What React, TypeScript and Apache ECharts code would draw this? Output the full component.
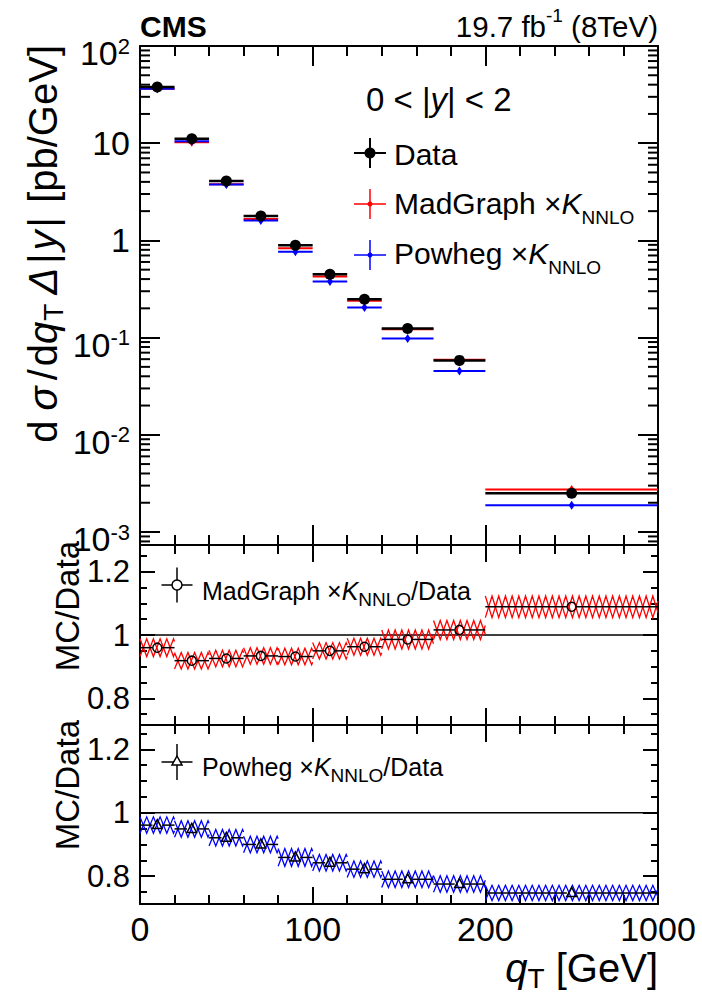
import React, { useEffect, useRef } from 'react';
import * as echarts from 'echarts';

// q_T binning [GeV]; the overflow bin (200–1000 GeV) occupies the 200–300 slot of the axis
const binLow = [0, 20, 40, 60, 80, 100, 120, 140, 170, 200];
const binHigh = [20, 40, 60, 80, 100, 120, 140, 170, 200, 300];
const binCenter = [10, 30, 50, 70, 90, 110, 130, 155, 185, 250];

// x axis: major tick positions and their labels
const xMajorTicks = [0, 100, 200, 300];
const xTickLabels = ['0', '100', '200', '1000'];

// dσ/dq_T Δ|y| [pb/GeV], 0 < |y| < 2
const dataXsec = [37.8, 11.1, 4.08, 1.78, 0.89, 0.448, 0.248, 0.124, 0.0583, 0.00251];
const madgraphXsec = [36.3, 10.2, 3.78, 1.66, 0.83, 0.426, 0.239, 0.122, 0.0592, 0.00273];
const powhegXsec = [36.3, 10.5, 3.76, 1.6, 0.765, 0.377, 0.204, 0.098, 0.0452, 0.00188];

// MC / Data ratios and the half-height of their uncertainty bands
const madgraphRatio = [0.96, 0.919, 0.926, 0.934, 0.932, 0.95, 0.963, 0.986, 1.016, 1.089];
const madgraphRatioErr = [0.028, 0.026, 0.026, 0.026, 0.026, 0.026, 0.027, 0.03, 0.03, 0.034];
const powhegRatio = [0.961, 0.949, 0.921, 0.9, 0.859, 0.842, 0.822, 0.79, 0.775, 0.747];
const powhegRatioErr = [0.026, 0.026, 0.026, 0.026, 0.028, 0.026, 0.026, 0.026, 0.026, 0.024];

// log axis labels (decades) and minor tick mantissas
const logTickValues = [1e-3, 1e-2, 1e-1, 1, 10, 100];
const logTickLabels = ['{b|10}{e|-3}', '{b|10}{e|-2}', '{b|10}{e|-1}', '1', '10', '{b|10}{e|2}'];
const logMantissas = [2, 3, 4, 5, 6, 7, 8, 9];
const logDecades = [1e-4, 1e-3, 1e-2, 1e-1, 1, 10];

// ratio axis ticks
const ratioMajorTicks = [0.8, 1, 1.2];
const ratioTickLabels = ['0.8', '1', '1.2'];
const ratioMinorTicks = [0.75, 0.85, 0.9, 0.95, 1.05, 1.1, 1.15, 1.25];

const FONT = '"Liberation Sans", Arial, Helvetica, sans-serif';
const RED = '#ff0000';
const BLUE = '#0000ff';
const BLACK = '#000000';
const HATCH_STEP = 6.7;

const frameStyle = { color: BLACK, width: 2 };

function xAxesFor(grid: number, major: number, minor: number, labels: boolean) {
  const base = { type: 'value', gridIndex: grid, min: 0, max: 300, splitLine: { show: false } };
  const lab = labels
    ? {
        show: true,
        showMinLabel: true,
        showMaxLabel: true,
        color: BLACK,
        fontFamily: FONT,
        fontSize: 34,
        margin: 8,
        formatter: (v: number) => {
          const i = xMajorTicks.indexOf(Math.round(v));
          return i >= 0 ? xTickLabels[i] : '';
        },
      }
    : { show: false };
  return [
    { ...base, position: 'bottom', interval: 100, axisLine: { show: true, onZero: false, lineStyle: frameStyle }, axisTick: { show: true, inside: true, length: major, lineStyle: frameStyle }, axisLabel: lab },
    { ...base, position: 'bottom', interval: 20, axisLine: { show: false, onZero: false }, axisTick: { show: true, inside: true, length: minor, lineStyle: frameStyle }, axisLabel: { show: false } },
    { ...base, position: 'top', interval: 100, axisLine: { show: true, onZero: false, lineStyle: frameStyle }, axisTick: { show: true, inside: true, length: major, lineStyle: frameStyle }, axisLabel: { show: false } },
    { ...base, position: 'top', interval: 20, axisLine: { show: false, onZero: false }, axisTick: { show: true, inside: true, length: minor, lineStyle: frameStyle }, axisLabel: { show: false } },
  ];
}

function logYAxes() {
  const base = { type: 'log', gridIndex: 0, min: 7.35e-4, max: 100, splitLine: { show: false }, minorTick: { show: false } };
  return [
    {
      ...base,
      position: 'left',
      axisLine: { show: true, onZero: false, lineStyle: frameStyle },
      axisTick: { show: true, inside: true, length: 20, lineStyle: frameStyle },
      axisLabel: {
        show: true,
        showMinLabel: false,
        showMaxLabel: true,
        margin: 10,
        color: BLACK,
        fontFamily: FONT,
        fontSize: 34,
        formatter: (v: number) => {
          const n = Math.round(Math.log10(v));
          const i = logTickValues.findIndex((t) => Math.round(Math.log10(t)) === n);
          return i >= 0 ? logTickLabels[i] : '';
        },
        rich: {
          b: { fontFamily: FONT, fontSize: 34, lineHeight: 34, padding: [14, 0, 0, 0], color: BLACK },
          e: { fontFamily: FONT, fontSize: 22, lineHeight: 22, padding: [13, 0, 13, 0], color: BLACK },
        },
      },
    },
    {
      ...base,
      position: 'right',
      axisLine: { show: true, onZero: false, lineStyle: frameStyle },
      axisTick: { show: true, inside: true, length: 20, lineStyle: frameStyle },
      axisLabel: { show: false },
    },
  ];
}

function ratioYAxes(grid: number, min: number, max: number) {
  const base = { type: 'value', gridIndex: grid, min, max, splitLine: { show: false } };
  return [
    {
      ...base,
      position: 'left',
      axisLine: { show: true, onZero: false, lineStyle: frameStyle },
      axisTick: { show: true, inside: true, length: 15, customValues: ratioMajorTicks, lineStyle: frameStyle },
      axisLabel: {
        show: true,
        customValues: ratioMajorTicks,
        margin: 10,
        color: BLACK,
        fontFamily: FONT,
        fontSize: 31,
        formatter: (v: number) => {
          const i = ratioMajorTicks.findIndex((t) => Math.abs(t - v) < 1e-6);
          return i >= 0 ? ratioTickLabels[i] : '';
        },
      },
    },
    {
      ...base,
      position: 'left',
      axisLine: { show: false, onZero: false },
      axisTick: { show: true, inside: true, length: 7, customValues: ratioMinorTicks, lineStyle: frameStyle },
      axisLabel: { show: false },
    },
    {
      ...base,
      position: 'right',
      axisLine: { show: true, onZero: false, lineStyle: frameStyle },
      axisTick: { show: true, inside: true, length: 15, customValues: ratioMajorTicks, lineStyle: frameStyle },
      axisLabel: { show: false },
    },
    {
      ...base,
      position: 'right',
      axisLine: { show: false, onZero: false },
      axisTick: { show: true, inside: true, length: 7, customValues: ratioMinorTicks, lineStyle: frameStyle },
      axisLabel: { show: false },
    },
  ];
}

// zigzag between the top and bottom edge of a band, used for the hatched uncertainty fill
function zigzag(x0: number, x1: number, yTop: number, yBot: number, startTop: boolean) {
  const pts: number[][] = [];
  let x = x0;
  let top = startTop;
  pts.push([x, top ? yTop : yBot]);
  while (x + HATCH_STEP < x1 - 0.01) {
    x += HATCH_STEP;
    top = !top;
    pts.push([x, top ? yTop : yBot]);
  }
  const rem = x1 - x;
  if (rem > 0.01) {
    const yFrom = top ? yTop : yBot;
    const yTo = top ? yBot : yTop;
    pts.push([x1, yFrom + ((yTo - yFrom) * rem) / HATCH_STEP]);
  }
  return pts;
}

function mcRender(color: string) {
  return (_params: any, api: any) => {
    const y = api.value(2);
    const a = api.coord([api.value(0), y]);
    const b = api.coord([api.value(1), y]);
    const c = api.coord([api.value(3), y]);
    return {
      type: 'group',
      children: [
        { type: 'line', shape: { x1: a[0], y1: a[1], x2: b[0], y2: b[1] }, style: { stroke: color, lineWidth: 2 } },
        {
          type: 'polygon',
          shape: { points: [[c[0], c[1] - 4.5], [c[0] + 3, c[1]], [c[0], c[1] + 4.5], [c[0] - 3, c[1]]] },
          style: { fill: color },
        },
      ],
    };
  };
}

function dataRender(_params: any, api: any) {
  const y = api.value(2);
  const a = api.coord([api.value(0), y]);
  const b = api.coord([api.value(1), y]);
  const c = api.coord([api.value(3), y]);
  return {
    type: 'group',
    children: [
      { type: 'line', shape: { x1: a[0], y1: a[1], x2: b[0], y2: b[1] }, style: { stroke: BLACK, lineWidth: 2.5 } },
      { type: 'circle', shape: { cx: c[0], cy: c[1], r: 5.5 }, style: { fill: BLACK } },
    ],
  };
}

function ratioRender(color: string, marker: 'circle' | 'triangle') {
  return (_params: any, api: any) => {
    const lo = api.value(0);
    const hi = api.value(1);
    const r = api.value(2);
    const e = api.value(3);
    const xc = api.value(4);
    const tl = api.coord([lo, r + e]);
    const br = api.coord([hi, r - e]);
    const a = api.coord([lo, r]);
    const b = api.coord([hi, r]);
    const c = api.coord([xc, r]);
    const gap = 4.8;
    const markerEl =
      marker === 'circle'
        ? { type: 'circle', shape: { cx: c[0], cy: c[1], r: 4.5 }, style: { fill: 'none', stroke: BLACK, lineWidth: 1.5 } }
        : {
            type: 'polygon',
            shape: { points: [[c[0], c[1] - 5.5], [c[0] + 4.8, c[1] + 3.5], [c[0] - 4.8, c[1] + 3.5]] },
            style: { fill: 'none', stroke: BLACK, lineWidth: 1.5 },
          };
    return {
      type: 'group',
      children: [
        { type: 'polyline', shape: { points: zigzag(tl[0], br[0], tl[1], br[1], true) }, style: { stroke: color, lineWidth: 1.3, fill: 'none' } },
        { type: 'polyline', shape: { points: zigzag(tl[0], br[0], tl[1], br[1], false) }, style: { stroke: color, lineWidth: 1.3, fill: 'none' } },
        { type: 'line', shape: { x1: a[0], y1: a[1], x2: c[0] - gap, y2: c[1] }, style: { stroke: BLACK, lineWidth: 1.5 } },
        { type: 'line', shape: { x1: c[0] + gap, y1: c[1], x2: b[0], y2: b[1] }, style: { stroke: BLACK, lineWidth: 1.5 } },
        markerEl,
      ],
    };
  };
}

function refLineRender(_params: any, api: any) {
  const v = api.value(0);
  const a = api.coord([0, v]);
  const b = api.coord([300, v]);
  return { type: 'line', shape: { x1: a[0], y1: a[1], x2: b[0], y2: b[1] }, style: { stroke: BLACK, lineWidth: 1.4 } };
}

function logMinorRender(_params: any, api: any) {
  const v = api.value(0);
  const a = api.coord([0, v]);
  const b = api.coord([300, v]);
  return {
    type: 'group',
    children: [
      { type: 'line', shape: { x1: a[0], y1: a[1], x2: a[0] + 10, y2: a[1] }, style: { stroke: BLACK, lineWidth: 2 } },
      { type: 'line', shape: { x1: b[0] - 10, y1: b[1], x2: b[0], y2: b[1] }, style: { stroke: BLACK, lineWidth: 2 } },
    ],
  };
}

function cross(cx: number, cy: number, hw: number, hh: number, color: string, lw: number) {
  return [
    { type: 'line', z: 100, shape: { x1: cx - hw, y1: cy, x2: cx + hw, y2: cy }, style: { stroke: color, lineWidth: lw } },
    { type: 'line', z: 100, shape: { x1: cx, y1: cy - hh, x2: cx, y2: cy + hh }, style: { stroke: color, lineWidth: lw } },
  ];
}

function text(x: number, y: number, str: string, style: any) {
  return { type: 'text', x, y, z: 100, style: { text: str, fontFamily: FONT, fill: BLACK, ...style } };
}

function buildOption() {
  const xsecRows = (vals: number[]) => vals.map((v, i) => [binLow[i], binHigh[i], v, binCenter[i]]);
  const ratioRows = (vals: number[], errs: number[]) =>
    vals.map((v, i) => [binLow[i], binHigh[i], v, errs[i], binCenter[i]]);

  const logMinorTicks: number[][] = [];
  logDecades.forEach((d) =>
    logMantissas.forEach((m) => {
      const v = m * d;
      if (v > 7.35e-4 && v < 100) logMinorTicks.push([v]);
    })
  );

  const legendMain = { fontSize: 30, lineHeight: 30, fontFamily: FONT, fill: BLACK };
  const legendRich = {
    t: legendMain,
    i: { ...legendMain, fontStyle: 'italic' },
    s: { fontSize: 19, lineHeight: 19, padding: [28, 0, 0, 0], fontFamily: FONT, fill: BLACK },
  };
  const ratioMain = { fontSize: 25, lineHeight: 25, fontFamily: FONT, fill: BLACK };
  const ratioRich = {
    t: ratioMain,
    i: { ...ratioMain, fontStyle: 'italic' },
    s: { fontSize: 19, lineHeight: 19, padding: [16, 0, 0, 0], fontFamily: FONT, fill: BLACK },
  };
  const titleMain = { fontSize: 40, lineHeight: 40, fontFamily: FONT, fill: BLACK };
  const titleRich = {
    t: titleMain,
    i: { ...titleMain, fontStyle: 'italic' },
    s: { fontSize: 28, lineHeight: 28, padding: [20, 0, 0, 0], fontFamily: FONT, fill: BLACK },
    // spaced variants for the y-axis title
    sig: { ...titleMain, fontStyle: 'italic', padding: [0, 6, 0, 6] },
    sl: { ...titleMain, padding: [0, 3, 0, 0] },
    d: { ...titleMain, padding: [0, 4, 0, 0] },
    st: { fontSize: 28, lineHeight: 28, padding: [20, 9, 0, 1], fontFamily: FONT, fill: BLACK },
    dl: { ...titleMain, fontStyle: 'italic', padding: [0, 4, 0, 0] },
    bar: { ...titleMain, padding: [0, 3, 0, 0] },
    y: { ...titleMain, fontStyle: 'italic', padding: [0, 3, 0, 0] },
  };

  const graphic: any[] = [
    // header
    text(140, 26, 'CMS', { fontSize: 30, fontWeight: 'bold', align: 'left', verticalAlign: 'middle' }),
    text(658, 26, '{t|19.7 fb}{e|-1}{t| (8TeV)}', {
      align: 'right',
      verticalAlign: 'middle',
      rich: {
        t: { fontSize: 29.5, lineHeight: 29.5, fontFamily: FONT, fill: BLACK },
        e: { fontSize: 19, lineHeight: 19, padding: [0, 0, 21, 0], fontFamily: FONT, fill: BLACK },
      },
    }),
    // axis titles
    {
      type: 'text',
      x: 43,
      y: 45,
      rotation: Math.PI / 2,
      z: 100,
      style: {
        text: '{d|d}{sig|σ}{sl|/}{t|d}{i|q}{st|T}{dl|Δ}{bar||}{y|y}{bar||}{t| [pb/GeV]}',
        align: 'right',
        verticalAlign: 'middle',
        rich: titleRich,
      },
    },
    {
      type: 'text',
      x: 67,
      y: 541,
      rotation: Math.PI / 2,
      z: 100,
      style: { text: 'MC/Data', fontFamily: FONT, fontSize: 33, fill: BLACK, align: 'right', verticalAlign: 'middle' },
    },
    {
      type: 'text',
      x: 67,
      y: 720,
      rotation: Math.PI / 2,
      z: 100,
      style: { text: 'MC/Data', fontFamily: FONT, fontSize: 33, fill: BLACK, align: 'right', verticalAlign: 'middle' },
    },
    text(658, 968, '{i|q}{s|T}{t| [GeV]}', { align: 'right', verticalAlign: 'middle', rich: titleRich }),
    // legend, upper panel
    text(366, 99, '{t|0 < |}{i|y}{t|| < 2}', {
      align: 'left',
      verticalAlign: 'middle',
      rich: { t: { ...legendMain, fontSize: 33, lineHeight: 33 }, i: { ...legendMain, fontSize: 33, lineHeight: 33, fontStyle: 'italic' } },
    }),
    ...cross(370, 153, 16, 15, BLACK, 2),
    { type: 'circle', z: 100, shape: { cx: 370, cy: 153, r: 5.5 }, style: { fill: BLACK } },
    text(394, 154, 'Data', { fontSize: 30, align: 'left', verticalAlign: 'middle' }),
    ...cross(370, 204, 16, 15, RED, 1.5),
    { type: 'circle', z: 100, shape: { cx: 370, cy: 204, r: 2.5 }, style: { fill: RED } },
    text(394, 203, '{t|MadGraph ×}{i|K}{s|NNLO}', { align: 'left', verticalAlign: 'middle', rich: legendRich }),
    ...cross(370, 255, 16, 15, BLUE, 1.5),
    { type: 'circle', z: 100, shape: { cx: 370, cy: 255, r: 2.5 }, style: { fill: BLUE } },
    text(394, 253, '{t|Powheg ×}{i|K}{s|NNLO}', { align: 'left', verticalAlign: 'middle', rich: legendRich }),
    // legend, ratio panels
    ...cross(177, 585, 15.5, 17.5, BLACK, 1.5),
    { type: 'circle', z: 100, shape: { cx: 177, cy: 585, r: 5 }, style: { fill: '#fff', stroke: BLACK, lineWidth: 1.5 } },
    text(202, 591, '{t|MadGraph ×}{i|K}{s|NNLO}{t|/Data}', { align: 'left', verticalAlign: 'middle', rich: ratioRich }),
    ...cross(177, 762, 15.5, 18, BLACK, 1.5),
    {
      type: 'polygon',
      z: 100,
      shape: { points: [[177, 756], [182, 765], [172, 765]] },
      style: { fill: '#fff', stroke: BLACK, lineWidth: 1.5 },
    },
    text(202, 767, '{t|Powheg ×}{i|K}{s|NNLO}{t|/Data}', { align: 'left', verticalAlign: 'middle', rich: ratioRich }),
  ];

  return {
    animation: false,
    backgroundColor: '#ffffff',
    textStyle: { fontFamily: FONT },
    grid: [
      { left: 140, top: 46, width: 518, height: 499 },
      { left: 140, top: 545, width: 518, height: 180 },
      { left: 140, top: 725, width: 518, height: 179 },
    ],
    xAxis: [...xAxesFor(0, 20, 10, false), ...xAxesFor(1, 17, 9, false), ...xAxesFor(2, 17, 9, true)],
    yAxis: [...logYAxes(), ...ratioYAxes(1, 0.716, 1.284), ...ratioYAxes(2, 0.712, 1.277)],
    series: [
      { type: 'custom', name: 'log minor ticks', xAxisIndex: 0, yAxisIndex: 0, renderItem: logMinorRender, data: logMinorTicks, silent: true },
      { type: 'custom', name: 'MadGraph', xAxisIndex: 0, yAxisIndex: 0, renderItem: mcRender(RED), data: xsecRows(madgraphXsec), encode: { x: [0, 1], y: 2 } },
      { type: 'custom', name: 'Powheg', xAxisIndex: 0, yAxisIndex: 0, renderItem: mcRender(BLUE), data: xsecRows(powhegXsec), encode: { x: [0, 1], y: 2 } },
      { type: 'custom', name: 'Data', xAxisIndex: 0, yAxisIndex: 0, renderItem: dataRender, data: xsecRows(dataXsec), encode: { x: [0, 1], y: 2 } },
      { type: 'custom', name: 'unity', xAxisIndex: 4, yAxisIndex: 4, renderItem: refLineRender, data: [[1]], silent: true },
      { type: 'custom', name: 'MadGraph/Data', xAxisIndex: 4, yAxisIndex: 4, renderItem: ratioRender(RED, 'circle'), data: ratioRows(madgraphRatio, madgraphRatioErr), encode: { x: [0, 1], y: 2 } },
      { type: 'custom', name: 'unity', xAxisIndex: 8, yAxisIndex: 8, renderItem: refLineRender, data: [[1]], silent: true },
      { type: 'custom', name: 'Powheg/Data', xAxisIndex: 8, yAxisIndex: 8, renderItem: ratioRender(BLUE, 'triangle'), data: ratioRows(powhegRatio, powhegRatioErr), encode: { x: [0, 1], y: 2 } },
    ],
    graphic,
  };
}

export default function App() {
  const ref = useRef<HTMLDivElement>(null);
  useEffect(() => {
    if (!ref.current) return;
    const chart = echarts.init(ref.current, undefined, { renderer: 'svg' });
    chart.setOption(buildOption() as any);
    return () => chart.dispose();
  }, []);
  return <div ref={ref} style={{ position: 'absolute', left: 0, top: 0, width: 702, height: 995, background: '#fff' }} />;
}
